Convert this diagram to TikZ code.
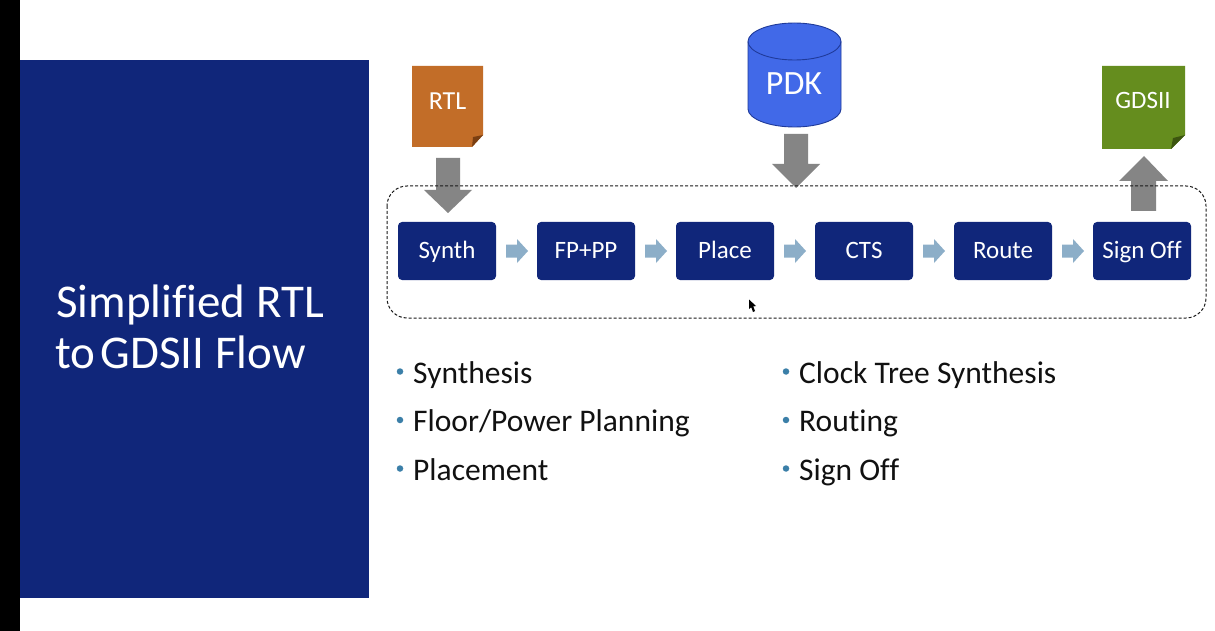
\documentclass[tikz,border=0pt]{standalone}
\usepackage{fontspec}
\setmainfont[Ligatures=NoCommon]{Carlito}
\definecolor{navy}{HTML}{10267A}
\definecolor{rtlc}{HTML}{C26D28}
\definecolor{rtld}{HTML}{7A3F12}
\definecolor{gdsc}{HTML}{658D1E}
\definecolor{gdsd}{HTML}{3C5510}
\definecolor{pdkc}{HTML}{4169E8}
\definecolor{pdkd}{HTML}{1F3A9A}
\definecolor{garrow}{HTML}{858585}
\definecolor{barrow}{HTML}{8CAEC8}
\definecolor{bullet}{HTML}{3B7FA8}
\definecolor{ink}{HTML}{111111}
\tikzset{
  x=1pt,y=-1pt,
  stage/.style={draw=none,fill=navy,rounded corners=4pt,minimum width=98pt,minimum height=58pt,inner sep=0pt,text=white},
  stagetext/.style={anchor=base,inner sep=0pt,text=white,font=\fontsize{25}{28}\selectfont},
  doclabel/.style={anchor=base,text=white,inner sep=0pt},
  item/.style={anchor=base west,inner sep=0pt,text=ink,font=\fontsize{31.5}{34}\selectfont},
  titletext/.style={anchor=base west,text=white,inner sep=0pt,font=\fontsize{47}{50}\selectfont},
  dot/.style={circle,fill=bullet,minimum size=6.5pt,inner sep=0pt},
  small/.style={fill=barrow,draw=none},
  big/.style={fill=garrow,draw=none},
}
\begin{document}
\begin{tikzpicture}
\useasboundingbox (0,0) rectangle (1215,631);
\fill[white] (0,0) rectangle (1215,631);
\fill[black] (0,0) rectangle (20,631);
\fill[navy] (20,60) rectangle (369,598);
\node[titletext] (title1) at (56,317) {Simplified RTL};
\node[titletext] (title2) at (55,368) {to\kern-5pt\ GDSII Flow};

% stages
\node[stage] (synth) at (447,251) {};
\node[stage] (fp) at (586,251) {};
\node[stage] (place) at (725,251) {};
\node[stage] (cts) at (864,251) {};
\node[stage] (route) at (1003,251) {};
\node[stage] (sign) at (1142,251) {};
\node[stagetext] at (447,258) {Synth};
\node[stagetext] at (586,258) {FP+PP};
\node[stagetext] at (725,258) {Place};
\node[stagetext] at (864,258) {CTS};
\node[stagetext] at (1003,258) {Route};
\node[stagetext] at (1142,258) {Sign Off};

% small arrows
\foreach \x in {517,656,795,934,1073}{
  \fill[small] (\x-11,244.5) -- (\x,244.5) -- (\x,239) -- (\x+11,251) -- (\x,263) -- (\x,257.5) -- (\x-11,257.5) -- cycle;
}

% RTL
\fill[rtlc] (412,66) -- (483,66) -- (483,135) -- (472,147) -- (412,147) -- cycle;
\fill[rtld] (483,135) -- (472,147) -- (473,137) -- cycle;
\node[doclabel,font=\fontsize{26}{28}\selectfont] (rtl) at (447.5,110) {RTL};

% GDSII
\fill[gdsc] (1102,66) -- (1185,66) -- (1185,135) -- (1171,149) -- (1102,149) -- cycle;
\fill[gdsd] (1185,135) -- (1171,149) -- (1173,138) -- cycle;
\node[doclabel,font=\fontsize{25}{28}\selectfont] (gds) at (1143,109) {GDSII};

% PDK cylinder
\fill[pdkc,draw=pdkd,line width=0.9pt] (748,41.5) -- (748,109)
  .. controls (748,118.7) and (768.8,127) .. (794.5,127)
  .. controls (820.2,127) and (841,118.7) .. (841,109)
  -- (841,41.5)
  .. controls (841,31.5) and (820.2,23) .. (794.5,23)
  .. controls (768.8,23) and (748,31.5) .. (748,41.5) -- cycle;
\draw[pdkd,line width=0.9pt] (748,41.5) .. controls (748,51.5) and (768.8,60) .. (794.5,60)
  .. controls (820.2,60) and (841,51.5) .. (841,41.5);
\node[doclabel,font=\fontsize{34}{38}\selectfont] (pdk) at (794,95) {PDK};

% big arrows
\fill[big] (436,158) -- (460,158) -- (460,190) -- (472,190) -- (448,213) -- (424,190) -- (436,190) -- cycle;
\fill[big] (784,134) -- (808,134) -- (808,164) -- (820,164) -- (796,188) -- (772,164) -- (784,164) -- cycle;
\fill[big] (1131,211) -- (1156,211) -- (1156,181) -- (1168,181) -- (1144,156) -- (1119,181) -- (1131,181) -- cycle;

% dashed frame
\draw[black!90,dash pattern=on 3pt off 2pt,line width=1pt,rounded corners=20pt] (387,186) rectangle (1206,318);

% pointer
\fill[black] (749,299.5) -- (749,309) -- (751.3,307.3) -- (753,312) -- (755,311) -- (753.3,306.5) -- (756,306) -- cycle;

% lists
\node[dot] (da) at (400,371.5) {};
\node[item] (ta) at (413,383) {Synthesis};
\node[dot] (db) at (400,420) {};
\node[item] (tb) at (413,431) {Floor/Power Planning};
\node[dot] (dc) at (400,468.5) {};
\node[item] (tc) at (413,480) {Placement};
\node[dot] (de) at (786,371.5) {};
\node[item] (te) at (799,383) {Clock Tree Synthesis};
\node[dot] (df) at (786,420) {};
\node[item] (tf) at (799,431) {Routing};
\node[dot] (dg) at (786,468.5) {};
\node[item] (tg) at (799,480) {Sign Off};
\end{tikzpicture}
\end{document}
